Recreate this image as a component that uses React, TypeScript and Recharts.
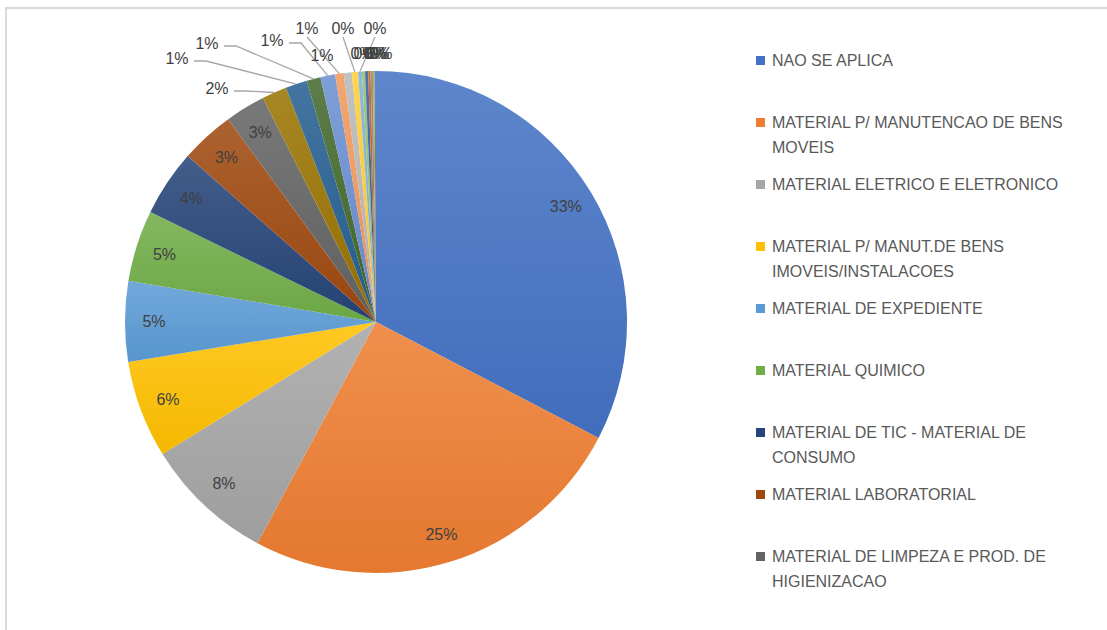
import React from 'react';
import { PieChart, Pie, Cell, Legend } from 'recharts';

const CATEGORIES = [
  'NAO SE APLICA',
  'MATERIAL P/ MANUTENCAO DE BENS MOVEIS',
  'MATERIAL ELETRICO E ELETRONICO',
  'MATERIAL P/ MANUT.DE BENS IMOVEIS/INSTALACOES',
  'MATERIAL DE EXPEDIENTE',
  'MATERIAL QUIMICO',
  'MATERIAL DE TIC - MATERIAL DE CONSUMO',
  'MATERIAL LABORATORIAL',
  'MATERIAL DE LIMPEZA E PROD. DE HIGIENIZACAO',
  'FERRAMENTAS',
  'MATERIAL DE PROTECAO E SEGURANCA',
  'MATERIAL DE COPA E COZINHA',
  'MATERIAL PARA AUDIO, VIDEO E FOTO',
  'MATERIAL DE SINALIZACAO VISUAL',
  'MATERIAL DE ACONDICIONAMENTO E EMBALAGEM',
  'UNIFORMES, TECIDOS E AVIAMENTOS',
  'MATERIAL HOSPITALAR',
  'MATERIAL BIBLIOGRAFICO',
  'COMBUSTIVEIS E LUBRIFICANTES',
  'MATERIAL ESPORTIVO',
  'MATERIAL ODONTOLOGICO',
  'SEMENTES E MUDAS DE PLANTAS',
  'MATERIAL DE CAMA, MESA E BANHO',
];

const VALUES = [
  32.8, 25.3, 8.4, 6.3, 5.2, 4.6, 4.3, 3.5, 2.6, 1.6, 1.4, 0.9, 0.95, 0.55, 0.52,
  0.4, 0.25, 0.2, 0.2, 0.15, 0.15, 0.1, 0.1,
];

const COLORS = [
  '#4472C4', '#ED7D31', '#A5A5A5', '#FFC000', '#5B9BD5', '#70AD47',
  '#264478', '#9E480E', '#636363', '#997300', '#255E91', '#43682B',
  '#698ED0', '#F1975A', '#B7B7B7', '#FFCD33', '#7CAFDD', '#8CC168',
  '#335AA1', '#BE5B1A', '#848484', '#CC9A00', '#3C7DC4',
];

const LEGEND_COUNT = 9;
const FIRST_OUTSIDE = 9;

// label placement for the small slices, relative to the pie centre (px)
const OUTSIDE_LABELS = [
  { dx: -159, dy: -234, line: true },
  { dx: -199, dy: -264, line: true },
  { dx: -169, dy: -279, line: true },
  { dx: -104, dy: -282, line: true },
  { dx: -69, dy: -294, line: true },
  { dx: -54, dy: -267, line: false },
  { dx: -33, dy: -294, line: true },
  { dx: -1, dy: -294, line: true },
  { dx: -14, dy: -269, line: false },
  { dx: -11, dy: -269, line: false },
  { dx: -1, dy: -269, line: false },
  { dx: 2, dy: -269, line: false },
  { dx: 5, dy: -269, line: false },
  { dx: 0, dy: -269, line: false },
];

const data = CATEGORIES.map((name, i) => ({ name, value: VALUES[i] }));

const FONT = "'Liberation Sans', Arial, sans-serif";
const RAD = Math.PI / 180;
const CX = 376;
const CY = 322;
const R = 251;

function mix(hex: string, target: number, amt: number) {
  const n = parseInt(hex.slice(1), 16);
  const ch = [(n >> 16) & 255, (n >> 8) & 255, n & 255].map((c) =>
    Math.round(c + (target - c) * amt)
  );
  return '#' + ch.map((c) => c.toString(16).padStart(2, '0')).join('');
}

const renderLabel = (props: any) => {
  const { midAngle, outerRadius, percent, index } = props;
  const cx = props.cx ?? CX;
  const cy = props.cy ?? CY;
  const txt = `${Math.round(percent * 100)}%`;
  const cos = Math.cos(-midAngle * RAD);
  const sin = Math.sin(-midAngle * RAD);
  const spot = index >= FIRST_OUTSIDE ? OUTSIDE_LABELS[index - FIRST_OUTSIDE] : null;
  if (!spot) {
    const r = outerRadius - 29;
    return (
      <text
        key={`l-${index}`}
        x={cx + r * cos}
        y={cy + r * sin}
        textAnchor="middle"
        dominantBaseline="central"
        fill="#404040"
        fontSize={16}
        fontFamily={FONT}
      >
        {txt}
      </text>
    );
  }
  const ax = cx + outerRadius * cos;
  const ay = cy + outerRadius * sin;
  const lx = cx + spot.dx;
  const ly = cy + spot.dy;
  const halfW = 15;
  let pts = '';
  if (spot.line) {
    if (Math.abs(ax - lx) > Math.abs(ay - ly) * 1.2) {
      const sx = lx + halfW + 2;
      pts = `${sx},${ly + 3} ${sx + 12},${ly + 3} ${ax},${ay}`;
    } else {
      pts = `${lx},${ly + 9} ${ax},${ay}`;
    }
  }
  return (
    <g key={`l-${index}`}>
      {spot.line && <polyline points={pts} fill="none" stroke="#a6a6a6" strokeWidth={1.3} />}
      <text
        x={lx}
        y={ly}
        textAnchor="middle"
        dominantBaseline="central"
        fill="#404040"
        fontSize={16}
        fontFamily={FONT}
      >
        {txt}
      </text>
    </g>
  );
};

const renderLegend = () => (
  <div style={{ fontFamily: FONT, fontSize: 16, color: '#595959' }}>
    {CATEGORIES.slice(0, LEGEND_COUNT).map((name, i) => (
      <div key={name} style={{ height: 62, display: 'flex', alignItems: 'flex-start' }}>
        <div
          style={{
            width: 9,
            height: 9,
            background: COLORS[i],
            marginTop: 8,
            marginRight: 7,
            flex: '0 0 auto',
          }}
        />
        <div style={{ lineHeight: '25px', width: 318 }}>{name}</div>
      </div>
    ))}
  </div>
);

export default function App() {
  return (
    <div style={{ position: 'absolute', left: 0, top: 0, width: 1107, height: 630, overflow: 'hidden', background: '#fff' }}>
      <div style={{ position: 'absolute', left: 0, top: 0 }}>
        <PieChart width={1107} height={630} margin={{ top: 0, right: 0, bottom: 0, left: 0 }}>
          <defs>
            {COLORS.map((c, i) => (
              <linearGradient key={i} id={`g${i}`} x1="0" y1="0" x2="0" y2="1">
                <stop offset="0%" stopColor={mix(c, 255, 0.14)} />
                <stop offset="100%" stopColor={mix(c, 0, 0.04)} />
              </linearGradient>
            ))}
          </defs>
          <Pie
            data={data}
            dataKey="value"
            nameKey="name"
            cx={CX}
            cy={CY}
            outerRadius={R}
            startAngle={90}
            endAngle={-270}
            stroke="none"
            label={renderLabel}
            labelLine={false}
            isAnimationActive={false}
          >
            {data.map((d, i) => (
              <Cell key={d.name} fill={`url(#g${i})`} />
            ))}
          </Pie>
          <Legend
            content={renderLegend}
            layout="vertical"
            align="right"
            verticalAlign="top"
            wrapperStyle={{ left: 756, top: 48, width: 340 }}
          />
        </PieChart>
      </div>
      <div
        style={{
          position: 'absolute',
          left: 5,
          top: 7,
          width: 1120,
          height: 640,
          borderTop: '2px solid #dadada',
          borderLeft: '2px solid #dadada',
          boxSizing: 'border-box',
          pointerEvents: 'none',
          zIndex: 10,
        }}
      />
    </div>
  );
}
